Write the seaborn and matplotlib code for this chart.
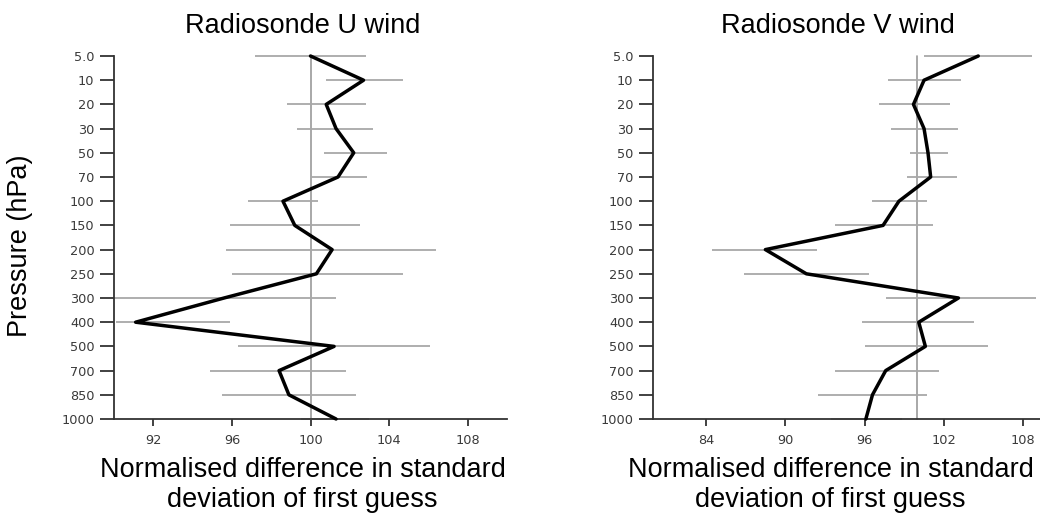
import numpy as np
import pandas as pd
import matplotlib
matplotlib.use("Agg")
import matplotlib.pyplot as plt
import seaborn as sns

# ---------------- data ----------------
levels = ["5.0", "10", "20", "30", "50", "70", "100", "150", "200", "250",
          "300", "400", "500", "700", "850", "1000"]

u_value = [100.0, 102.7, 100.8, 101.3, 102.2, 101.4, 98.6, 99.2, 101.1, 100.3,
           95.6, 91.1, 101.2, 98.4, 98.9, 101.3]
u_low = [97.2, 100.8, 98.8, 99.3, 100.7, 100.0, 96.8, 95.9, 95.7, 96.0,
         90.0, 90.1, 96.3, 94.9, 95.5, 99.5]
u_high = [102.8, 104.7, 102.8, 103.2, 103.9, 102.9, 100.4, 102.5, 106.4, 104.7,
          101.3, 95.9, 106.1, 101.8, 102.3, 103.0]

v_value = [104.6, 100.5, 99.7, 100.5, 100.8, 101.0, 98.6, 97.4, 88.5, 91.6,
           103.1, 100.1, 100.6, 97.6, 96.6, 96.1]
v_low = [100.5, 97.8, 97.1, 98.0, 99.4, 99.2, 96.6, 93.8, 84.5, 86.9,
         97.6, 95.8, 96.0, 93.8, 92.5, 93.5]
v_high = [108.7, 103.3, 102.5, 103.1, 102.3, 103.0, 100.7, 101.2, 92.4, 96.3,
          109.0, 104.3, 105.3, 101.6, 100.7, 98.8]

u_ticks = [92, 96, 100, 104, 108]
v_ticks = [84, 90, 96, 102, 108]

titles = ["Radiosonde U wind", "Radiosonde V wind"]
xlabel = "Normalised difference in standard\ndeviation of first guess"
ylabel = "Pressure (hPa)"

# ---------------- style ----------------
sns.set_style("ticks")
plt.rcParams["font.family"] = ["Liberation Sans", "DejaVu Sans"]
plt.rcParams["text.color"] = "black"
plt.rcParams["axes.labelcolor"] = "black"

fig = plt.figure(figsize=(10.4, 5.2), dpi=100)
ax1 = fig.add_axes([114 / 1040, 101 / 520, 393 / 1040, 363 / 520])
ax2 = fig.add_axes([653 / 1040, 101 / 520, 387 / 1040, 363 / 520])

panels = [
    (ax1, u_value, u_low, u_high, u_ticks, (90, 110), 0.481, 0.480),
    (ax2, v_value, v_low, v_high, v_ticks, (80, 109.27), 0.477, 0.459),
]

idx = np.arange(len(levels))
for k, (ax, val, lo, hi, ticks, xlim, tx, lx) in enumerate(panels):
    df = pd.DataFrame({"level": idx, "value": val, "lo": lo, "hi": hi})
    ax.axvline(100, color="#9a9a9a", lw=1.2, zorder=1)
    ax.hlines(df["level"], df["lo"], df["hi"], color="#a8a8a8", lw=1.3,
              zorder=2, clip_on=False)
    sns.lineplot(data=df, x="value", y="level", sort=False, estimator=None,
                 orient="y", color="black", lw=2.5, ax=ax, zorder=3)
    for line in ax.lines:
        line.set_clip_on(False)
    ax.set_xlim(*xlim)
    ax.set_ylim(len(levels) - 1, 0)
    ax.set_yticks(idx)
    ax.set_yticklabels(levels)
    ax.set_xticks(ticks)
    ax.set_xticklabels([str(t) for t in ticks])
    sns.despine(ax=ax)
    for s in ("left", "bottom"):
        ax.spines[s].set_color("#333333")
        ax.spines[s].set_linewidth(1.3)
    ax.tick_params(axis="y", length=10, width=1.3, pad=4.0, color="#333333",
                   labelsize=9.3, labelcolor="#3a3a3a")
    ax.tick_params(axis="x", length=5, width=1.3, pad=6, color="#333333",
                   labelsize=9.3, labelcolor="#3a3a3a")
    for lab in ax.get_xticklabels() + ax.get_yticklabels():
        lab.set_family("DejaVu Sans")
    ax.set_title(titles[k], fontsize=19.5, x=tx, pad=16.5, color="black")
    ax.set_xlabel(xlabel, fontsize=19.5, linespacing=1.18)
    ax.xaxis.set_label_coords(lx, -0.105)
    ax.xaxis.label.set_va("top")
    if k == 0:
        ax.set_ylabel(ylabel, fontsize=19.5)
        ax.yaxis.set_label_coords(-0.206, 0.477)
    else:
        ax.set_ylabel("")
    ax.set_facecolor("white")

fig.savefig("out.png", dpi=100, facecolor="white")
